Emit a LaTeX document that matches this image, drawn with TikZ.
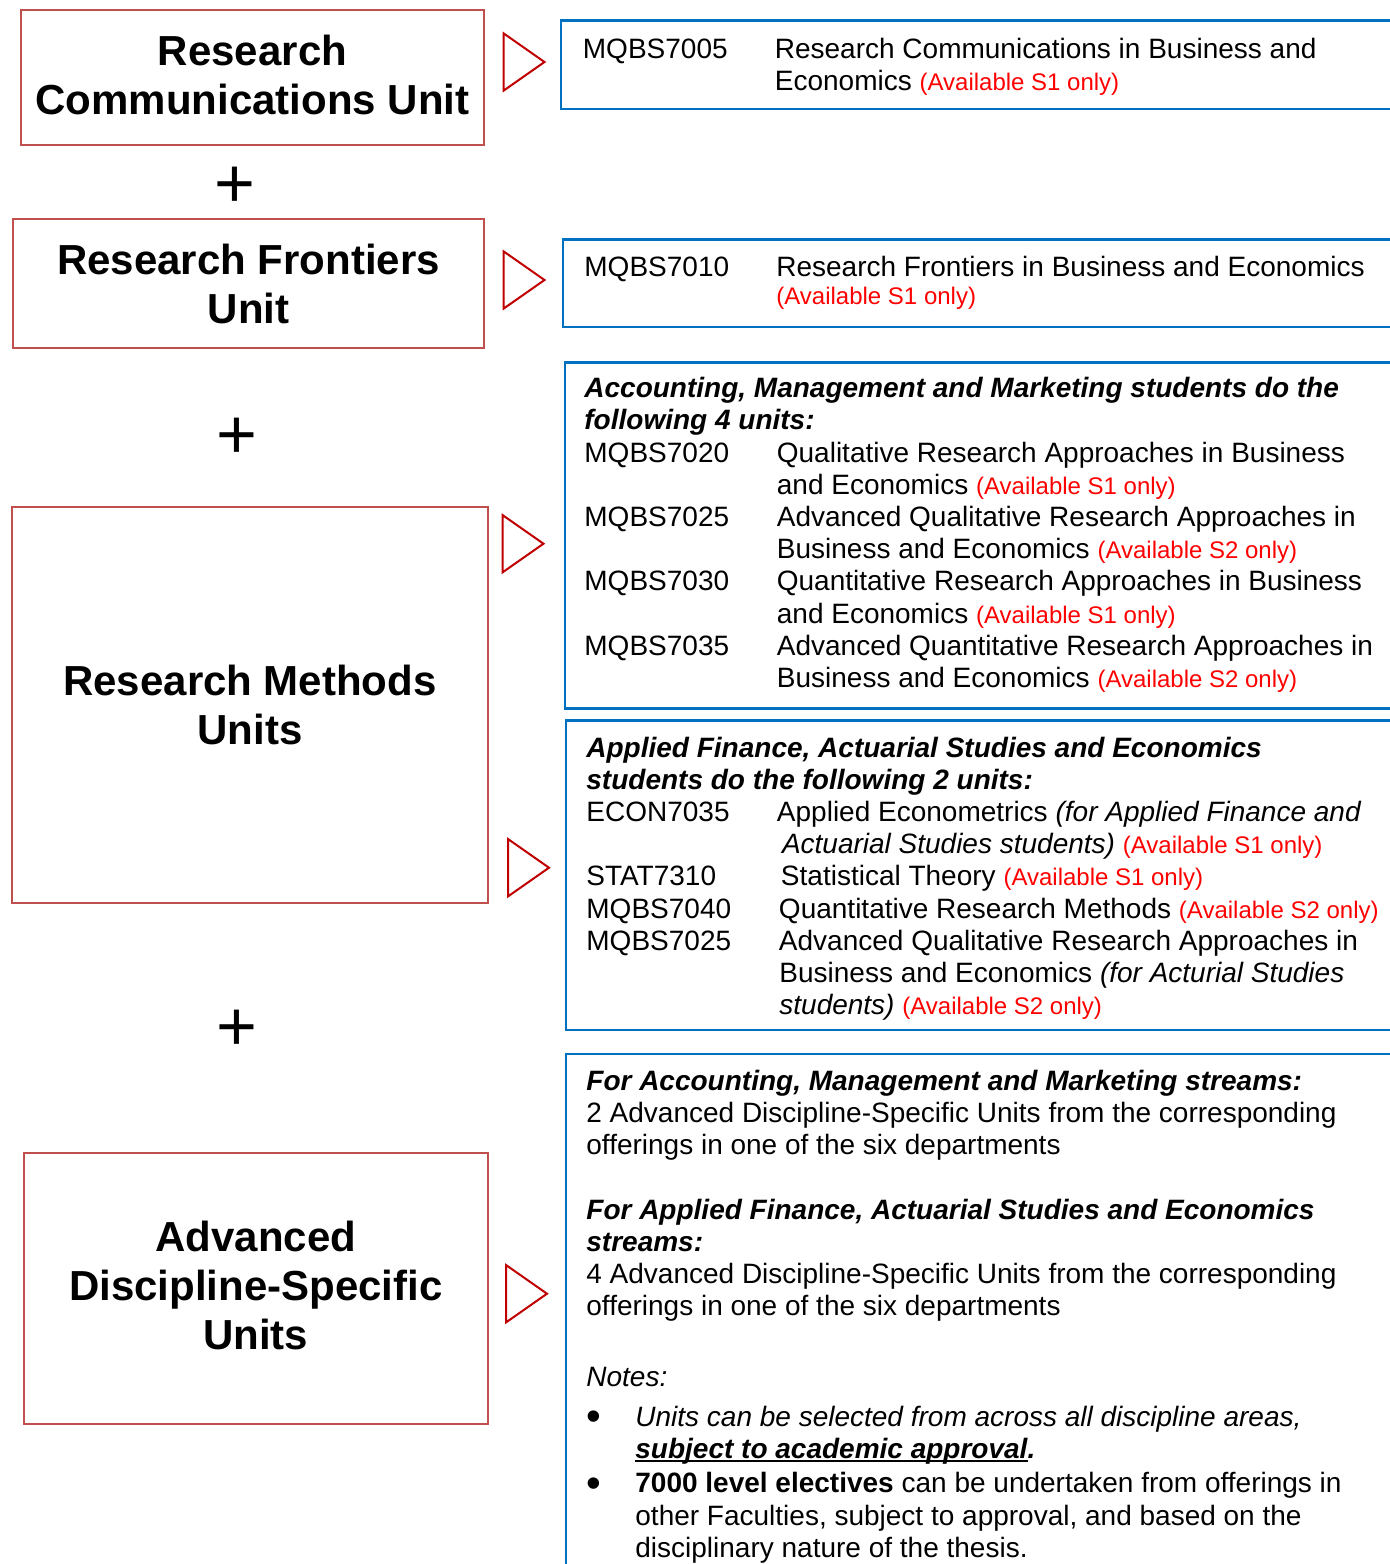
\documentclass[tikz,border=0pt]{standalone}
\usepackage{fontspec}
\setmainfont{Liberation Sans}
\usepackage{array}
\usetikzlibrary{calc}

\definecolor{unitred}{HTML}{C0504D}
\definecolor{pointred}{HTML}{C00000}
\definecolor{listblue}{HTML}{0070C0}
\definecolor{availred}{HTML}{FF0000}

\newcommand{\avail}[1]{{\fontsize{12pt}{14pt}\selectfont\color{availred}(Available #1 only)}}
\newcommand{\undr}[1]{\setbox0\hbox{#1}\rlap{\rule[-1.6pt]{\wd0}{0.9pt}}\box0}
\newcommand{\bulletmark}{\makebox[24.5pt][l]{\raisebox{-2.2pt}{\scalebox{1.5}{\textbullet}}}}

\tikzset{
  unitbox/.style={draw=unitred, line width=1pt, align=center, inner sep=0pt,
    font=\fontsize{21pt}{24.5pt}\selectfont\bfseries},
  listbox/.style={draw=listblue, line width=1.1pt},
  listtext/.style={anchor=north west, inner sep=0pt, font=\fontsize{14pt}{16.1pt}\selectfont},
  pointer/.style={draw=pointred, line width=1pt},
  plussign/.style={inner sep=0pt, font=\fontsize{35pt}{40pt}\selectfont}
}

\begin{document}
\begin{tikzpicture}[x=0.5pt, y=-0.5pt]
\useasboundingbox (0,0) rectangle (1389,1564);

% units on the left
\node[unitbox, minimum width=231.5pt, minimum height=67.5pt] (commsunit) at (252.5,77.5) {Research\\Communications Unit\rule[-3pt]{0pt}{3pt}};
\node[unitbox, minimum width=235.5pt, minimum height=64.5pt] (frontunit) at (248.5,283.5) {Research Frontiers\\Unit};
\node[unitbox, minimum width=238pt, minimum height=198pt] (methodsunit) at (250,704.7) {Research Methods\\Units};
\node[unitbox, minimum width=231.8pt, minimum height=135.8pt] (discunit) at (255.8,1288.5) {Advanced\\Discipline-Specific\\Units\rule[-3.5pt]{0pt}{3.5pt}};

\node[plussign] (plusA) at (234.5,187.7) {+};
\node[plussign] (plusB) at (237,438.7) {+};
\node[plussign] (plusC) at (236.8,1030.7) {+};

\foreach \x/\y in {503.5/33.3, 503.5/251.3, 502.5/515, 508/839, 506/1265} {
  \draw[pointer] (\x,\y) -- ++(41,28.7) -- ++(-41,28.7) -- cycle;
}

% unit lists on the right
\draw[listbox] (561,20.5) rectangle (1400,109);
\draw[listbox] (563,239.5) rectangle (1400,327);
\draw[listbox] (565,362.5) rectangle (1400,708.5);
\draw[listbox] (566,720.5) rectangle (1400,1030);
\draw[listbox] (566,1054) rectangle (1400,1600);

\node[listtext] (commslist) at (582.5,35.8) {\begin{tabular}{@{}p{96pt}@{}l@{}}
MQBS7005 & Research Communications in Business and\\
 & Economics \avail{S1}
\end{tabular}};

\node[listtext] (frontlist) at (584,253.5) {\begin{tabular}{@{}p{96pt}@{}l@{}}
MQBS7010 & Research Frontiers in Business and Economics\\[-2pt]
 & \avail{S1}
\end{tabular}};

\node[listtext] (methodsamm) at (584,374.8) {\begin{tabular}{@{}p{96.25pt}@{}l@{}}
\multicolumn{2}{@{}l@{}}{\bfseries\itshape Accounting, Management and Marketing students do the}\\
\multicolumn{2}{@{}l@{}}{\bfseries\itshape following 4 units:}\\
MQBS7020 & Qualitative Research Approaches in Business\\
 & and Economics \avail{S1}\\
MQBS7025 & Advanced Qualitative Research Approaches in\\
 & Business and Economics \avail{S2}\\
MQBS7030 & Quantitative Research Approaches in Business\\
 & and Economics \avail{S1}\\
MQBS7035 & Advanced Quantitative Research Approaches in\\
 & Business and Economics \avail{S2}
\end{tabular}};

\node[listtext] (methodsafe) at (586,734.2) {\begin{tabular}{@{}p{95.3pt}@{}l@{}}
\multicolumn{2}{@{}l@{}}{\bfseries\itshape Applied Finance, Actuarial Studies and Economics}\\
\multicolumn{2}{@{}l@{}}{\bfseries\itshape students do the following 2 units:}\\
ECON7035 & Applied Econometrics \textit{(for Applied Finance and}\\
 & \hspace{2.5pt}\textit{Actuarial Studies students)} \avail{S1}\\
STAT7310 & \hspace{2pt}Statistical Theory \avail{S1}\\
MQBS7040 & \hspace{1pt}Quantitative Research Methods \avail{S2}\\
MQBS7025 & \hspace{1pt}Advanced Qualitative Research Approaches in\\
 & \hspace{1.2pt}Business and Economics \textit{(for Acturial Studies}\\
 & \hspace{1.2pt}\textit{students)} \avail{S2}
\end{tabular}};

\node[listtext] (disclist) at (586,1067.5) {\begin{tabular}{@{}l@{}}
{\bfseries\itshape For Accounting, Management and Marketing streams:}\\
2 Advanced Discipline-Specific Units from the corresponding\\
offerings in one of the six departments\\
\\
{\bfseries\itshape For Applied Finance, Actuarial Studies and Economics}\\
{\bfseries\itshape streams:}\\
4 Advanced Discipline-Specific Units from the corresponding\\
offerings in one of the six departments\\
\\[3pt]
\textit{Notes:}\\[4pt]
\bulletmark\textit{Units can be selected from across all discipline areas,}\\
\hspace{24.5pt}{\bfseries\itshape\undr{subject to academic approval}.}\\[1pt]
\bulletmark\textbf{7000 level electives} can be undertaken from offerings in\\
\hspace{24.5pt}other Faculties, subject to approval, and based on the\\
\hspace{24.5pt}disciplinary nature of the thesis.
\end{tabular}};
\end{tikzpicture}
\end{document}
